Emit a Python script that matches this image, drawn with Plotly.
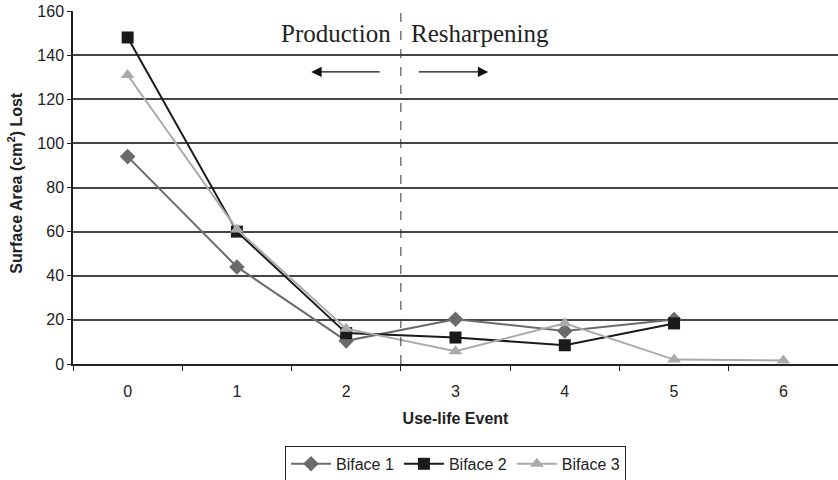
import plotly.graph_objects as go

events = [0, 1, 2, 3, 4, 5, 6]
event_labels = ["0", "1", "2", "3", "4", "5", "6"]
biface1 = [94, 44, 10.5, 20.3, 15, 20.2]
biface2 = [148, 60, 14, 12, 8.5, 18.4]
biface3 = [131, 61, 16, 5.8, 18.5, 2, 1.6]
y_ticks = [0, 20, 40, 60, 80, 100, 120, 140, 160]

fig = go.Figure()
fig.add_trace(go.Scatter(x=events[:len(biface1)], y=biface1, name="Biface 1", mode="lines+markers",
                         line=dict(color="#6b6b6b", width=2),
                         marker=dict(symbol="diamond", size=12, color="#6b6b6b")))
fig.add_trace(go.Scatter(x=events[:len(biface2)], y=biface2, name="Biface 2", mode="lines+markers",
                         line=dict(color="#1a1a1a", width=2),
                         marker=dict(symbol="square", size=12, color="#1a1a1a")))
fig.add_trace(go.Scatter(x=events[:len(biface3)], y=biface3, name="Biface 3", mode="lines+markers",
                         line=dict(color="#aaaaaa", width=2),
                         marker=dict(symbol="triangle-up", size=12, color="#aaaaaa")))

# dashed separator between production and resharpening
fig.add_shape(type="line", xref="x", yref="paper", x0=2.5, x1=2.5, y0=0, y1=1,
              line=dict(color="#333333", width=1, dash="dash"))

fig.add_annotation(x=2.43, y=150, xref="x", yref="y", text="Production", showarrow=False,
                   xanchor="right", font=dict(family="Liberation Serif", size=25, color="#222222"))
fig.add_annotation(x=2.57, y=150, xref="x", yref="y", text="Resharpening", showarrow=False,
                   xanchor="left", font=dict(family="Liberation Serif", size=25, color="#222222"))
# arrows
fig.add_annotation(x=1.68, y=132.4, ax=2.32, ay=132.4, xref="x", yref="y", axref="x", ayref="y",
                   text="", showarrow=True, arrowhead=2, arrowsize=1.6, arrowwidth=1.3, arrowcolor="#111111")
fig.add_annotation(x=3.30, y=132.4, ax=2.65, ay=132.4, xref="x", yref="y", axref="x", ayref="y",
                   text="", showarrow=True, arrowhead=2, arrowsize=1.6, arrowwidth=1.3, arrowcolor="#111111")
# y-axis title
fig.add_annotation(x=-0.0758, y=0.511, xref="paper", yref="paper", text="<b>Surface Area (cm<sup>2</sup>) Lost</b>",
                   showarrow=False, textangle=-90, xanchor="center", yanchor="middle",
                   font=dict(size=16, color="#222222"))

fig.update_layout(
    width=838, height=480,
    margin=dict(l=73, r=0, t=11, b=116, autoexpand=False),
    paper_bgcolor="white", plot_bgcolor="white",
    font=dict(family="Liberation Sans, Arial", size=16, color="#222222"),
    showlegend=True,
    legend=dict(orientation="h", x=0.5, xanchor="center", y=-0.232, yanchor="top",
                bordercolor="#222222", borderwidth=1, font=dict(size=16),
                itemwidth=40, tracegroupgap=0),
)
fig.update_xaxes(
    range=[-0.5, 6.5], tickvals=events, ticktext=event_labels, ticks="",
    showgrid=False, zeroline=False, showline=True, linecolor="#222222", linewidth=1.5,
    minor=dict(tick0=0.5, dtick=1, ticks="outside", ticklen=5, tickcolor="#222222", showgrid=False),
    tickfont=dict(size=16), ticklabelstandoff=12,
    title=dict(text="<b>Use-life Event</b>", font=dict(size=16), standoff=14),
)
fig.update_yaxes(
    range=[0, 160], tickvals=y_ticks, ticks="outside", ticklen=4, tickcolor="#222222",
    showgrid=True, gridcolor="#444444", gridwidth=1.5, zeroline=False,
    showline=True, linecolor="#222222", linewidth=1.5,
    tickfont=dict(size=16), ticklabeloverflow="allow",
)

fig.write_html("out.html", post_script="document.body.style.margin='0';",
               config={"displayModeBar": False})
